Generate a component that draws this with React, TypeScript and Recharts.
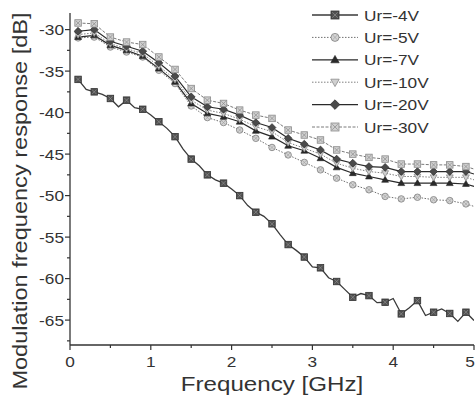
import { LineChart, Line, XAxis, YAxis, Legend } from 'recharts';

// frequency grid (GHz)
const FREQ_FINE = [
  0.1, 0.2, 0.3, 0.4, 0.5, 0.6, 0.7, 0.8, 0.9, 1.0,
  1.1, 1.2, 1.3, 1.4, 1.5, 1.6, 1.7, 1.8, 1.9, 2.0,
  2.1, 2.2, 2.3, 2.4, 2.5, 2.6, 2.7, 2.8, 2.9, 3.0,
  3.1, 3.2, 3.3, 3.4, 3.5, 3.6, 3.7, 3.8, 3.9, 4.0,
  4.1, 4.2, 4.3, 4.4, 4.5, 4.6, 4.7, 4.8, 4.9, 5.0,
];
const FREQ_MARK = [
  0.1, 0.3, 0.5, 0.7, 0.9, 1.1, 1.3, 1.5, 1.7, 1.9, 2.1, 2.3, 2.5,
  2.7, 2.9, 3.1, 3.3, 3.5, 3.7, 3.9, 4.1, 4.3, 4.5, 4.7, 4.9, 5.0,
];

// response in dB
const UR4 = [
  -36.0, -37.2, -37.5, -37.8, -38.3, -39.3, -38.5, -39.4, -39.6, -40.3,
  -41.1, -41.9, -42.9, -44.4, -45.6, -46.4, -47.5, -48.1, -48.5, -49.2,
  -50.0, -51.2, -52.0, -52.5, -53.4, -54.7, -55.9, -56.6, -57.4, -58.6,
  -58.7, -59.9, -60.35, -61.3, -62.25, -61.8, -62.05, -62.9, -62.85, -62.4,
  -64.25, -63.5, -62.65, -64.45, -64.05, -63.65, -64.2, -65.15, -64.05, -65.05,
];
const UR5 = [
  -31.0, -30.9, -32.1, -32.7, -33.3, -34.9, -36.5, -39.2, -40.6, -41.2, -42.1, -43.1, -44.2,
  -45.1, -46.0, -46.9, -47.9, -48.7, -49.3, -50.1, -50.4, -50.2, -50.5, -50.6, -51.0, -51.3,
];
const UR7 = [
  -30.9, -30.7, -31.9, -32.5, -33.2, -34.7, -36.3, -38.9, -40.1, -40.5, -41.1, -42.2, -42.9,
  -44.0, -44.6, -45.5, -46.6, -47.3, -47.7, -48.1, -48.5, -48.5, -48.5, -48.5, -48.6, -48.9,
];
const UR10 = [
  -30.6, -30.4, -31.7, -32.3, -32.9, -34.4, -36.0, -38.5, -39.7, -40.1, -40.8, -41.7, -42.3,
  -43.6, -44.3, -45.0, -46.1, -46.7, -47.1, -47.3, -47.7, -47.7, -47.8, -47.8, -47.8, -48.1,
];
const UR20 = [
  -30.2, -30.0, -31.4, -32.0, -32.6, -34.0, -35.6, -38.1, -39.3, -39.6, -40.3, -41.2, -41.8,
  -43.1, -43.8, -44.5, -45.6, -46.1, -46.5, -46.6, -47.1, -47.1, -47.1, -47.1, -47.1, -47.4,
];
const UR30 = [
  -29.2, -29.3, -30.9, -31.5, -31.8, -33.3, -34.8, -37.1, -38.5, -38.9, -39.7, -40.3, -40.7,
  -42.1, -42.7, -43.3, -44.5, -45.0, -45.4, -45.6, -46.2, -46.2, -46.3, -46.3, -46.5, -46.8,
];

const X_TICKS = [0, 0.5, 1, 1.5, 2, 2.5, 3, 3.5, 4, 4.5, 5];
const Y_TICKS = [-67.5, -65, -62.5, -60, -57.5, -55, -52.5, -50, -47.5, -45, -42.5, -40, -37.5, -35, -32.5, -30];

type Kind = 'square' | 'circle' | 'triangle' | 'triangleDown' | 'diamond' | 'squareX';

interface SeriesDef {
  name: string;
  freq: number[];
  values: number[];
  kind: Kind;
  stroke: string;
  width: number;
  dash?: string;
}

const SERIES: SeriesDef[] = [
  { name: 'Ur=-4V', freq: FREQ_FINE, values: UR4, kind: 'square', stroke: '#3a3a3a', width: 1.3 },
  { name: 'Ur=-5V', freq: FREQ_MARK, values: UR5, kind: 'circle', stroke: '#707070', width: 1, dash: '1.5 1.5' },
  { name: 'Ur=-7V', freq: FREQ_MARK, values: UR7, kind: 'triangle', stroke: '#2a2a2a', width: 1.2 },
  { name: 'Ur=-10V', freq: FREQ_MARK, values: UR10, kind: 'triangleDown', stroke: '#808080', width: 1, dash: '1.5 1.5' },
  { name: 'Ur=-20V', freq: FREQ_MARK, values: UR20, kind: 'diamond', stroke: '#2a2a2a', width: 1.2 },
  { name: 'Ur=-30V', freq: FREQ_MARK, values: UR30, kind: 'squareX', stroke: '#7a7a7a', width: 1, dash: '3 1.5' },
];

const FONT = "'Liberation Sans', Arial, sans-serif";
const INK = '#333';
const STRETCH = 1.15; // the original face is wider than Arial
const CHART_W = 476;

function Marker({ kind, cx, cy, s }: { kind: Kind; cx: number; cy: number; s: number }) {
  const h = s / 2;
  const xPath = `M${cx - h * 0.7},${cy - h * 0.7}L${cx + h * 0.7},${cy + h * 0.7}M${cx + h * 0.7},${cy - h * 0.7}L${cx - h * 0.7},${cy + h * 0.7}`;
  switch (kind) {
    case 'square':
      return (
        <g>
          <rect x={cx - h} y={cy - h} width={s} height={s} fill="#505050" stroke="#333" strokeWidth={0.8} />
          <path d={xPath} stroke="#999" strokeWidth={0.6} />
        </g>
      );
    case 'circle':
      return (
        <g>
          <circle cx={cx} cy={cy} r={h} fill="#d4d4d4" stroke="#8a8a8a" strokeWidth={0.9} />
          <path d={xPath} stroke="#9a9a9a" strokeWidth={0.6} />
        </g>
      );
    case 'triangle':
      return (
        <polygon
          points={`${cx},${cy - h * 1.1} ${cx + h * 1.05},${cy + h * 0.75} ${cx - h * 1.05},${cy + h * 0.75}`}
          fill="#2a2a2a"
          stroke="#222"
          strokeWidth={0.6}
        />
      );
    case 'triangleDown':
      return (
        <polygon
          points={`${cx},${cy + h * 1.1} ${cx + h * 1.05},${cy - h * 0.75} ${cx - h * 1.05},${cy - h * 0.75}`}
          fill="#d0d0d0"
          stroke="#8a8a8a"
          strokeWidth={0.8}
        />
      );
    case 'diamond':
      return (
        <polygon
          points={`${cx},${cy - h * 1.2} ${cx + h * 1.2},${cy} ${cx},${cy + h * 1.2} ${cx - h * 1.2},${cy}`}
          fill="#4a4a4a"
          stroke="#2a2a2a"
          strokeWidth={0.7}
        />
      );
    default:
      return (
        <g>
          <rect x={cx - h} y={cy - h} width={s} height={s} fill="#d0d0d0" stroke="#8a8a8a" strokeWidth={0.8} />
          <path d={xPath} stroke="#8a8a8a" strokeWidth={0.7} />
        </g>
      );
  }
}

// symbols on every other sample (0.1, 0.3, ... 4.9)
const isMarked = (f: number) => Math.round(f * 10) % 2 === 1;

const makeDot = (kind: Kind) => (p: any) => {
  const key = `dot-${p.index}`;
  if (!isMarked(p.payload?.f) || p.cx == null || p.cy == null) return <g key={key} />;
  return (
    <g key={key}>
      <Marker kind={kind} cx={p.cx} cy={p.cy} s={6.5} />
    </g>
  );
};

function XTick(props: any) {
  const { x, y, payload } = props;
  const v = payload.value as number;
  const major = Math.abs(v - Math.round(v)) < 1e-6;
  // keep the last label inside the picture
  const tx = Math.min(x, CHART_W - 6);
  return (
    <g>
      <line x1={x} y1={y} x2={x} y2={y + (major ? 5 : 3)} stroke={INK} strokeWidth={1.2} />
      {major && (
        <text
          transform={`translate(${tx},${y + 22}) scale(${STRETCH},1)`}
          textAnchor="middle"
          fontSize={15}
          fontFamily={FONT}
          fill={INK}
        >
          {v}
        </text>
      )}
    </g>
  );
}

function YTick(props: any) {
  const { x, y, payload } = props;
  const v = payload.value as number;
  const major = Math.abs(v - Math.round(v)) < 1e-6;
  return (
    <g>
      <line x1={x} y1={y} x2={x - (major ? 5 : 3)} y2={y} stroke={INK} strokeWidth={1.2} />
      {major && (
        <text
          transform={`translate(${x - 6},${y + 5.5}) scale(${STRETCH},1)`}
          textAnchor="end"
          fontSize={15}
          fontFamily={FONT}
          fill={INK}
        >
          {v}
        </text>
      )}
    </g>
  );
}

function XTitle(props: any) {
  const { viewBox } = props;
  const cx = viewBox.x + viewBox.width / 2;
  return (
    <text
      transform={`translate(${cx},${viewBox.y + 46}) scale(${STRETCH},1)`}
      textAnchor="middle"
      fontSize={21}
      fontFamily={FONT}
      fill={INK}
    >
      Frequency [GHz]
    </text>
  );
}

function YTitle(props: any) {
  const { viewBox } = props;
  const cy = viewBox.y + viewBox.height / 2 + 22;
  return (
    <text
      transform={`translate(27,${cy}) rotate(-90) scale(${STRETCH},1)`}
      textAnchor="middle"
      fontSize={20.5}
      fontFamily={FONT}
      fill={INK}
    >
      Modulation frequency response [dB]
    </text>
  );
}

function LegendBox() {
  return (
    <svg width={CHART_W} height={140} style={{ display: 'block' }}>
      {SERIES.map((s, i) => {
        const y = 15 + i * 22.4;
        return (
          <g key={s.name}>
            <line x1={312} x2={358} y1={y} y2={y} stroke={s.stroke} strokeWidth={s.width} strokeDasharray={s.dash} />
            <Marker kind={s.kind} cx={335} cy={y} s={8} />
            <text
              transform={`translate(364,${y + 5.5}) scale(${STRETCH},1)`}
              fontSize={15}
              fontFamily={FONT}
              fill={INK}
            >
              {s.name}
            </text>
          </g>
        );
      })}
    </svg>
  );
}

export default function App() {
  return (
    <div style={{ position: 'absolute', left: 0, top: 0, width: CHART_W, height: 398, background: '#fff' }}>
      <LineChart width={CHART_W} height={398} margin={{ top: 13, right: 2, bottom: 0, left: 0 }}>
        <XAxis
          dataKey="f"
          type="number"
          domain={[0, 5]}
          ticks={X_TICKS}
          interval={0}
          allowDataOverflow
          height={53}
          tickSize={0}
          tickMargin={0}
          tickLine={false}
          tick={<XTick />}
          axisLine={{ stroke: INK, strokeWidth: 1.3 }}
          label={XTitle}
        />
        <YAxis
          type="number"
          domain={[-68, -28]}
          ticks={Y_TICKS}
          interval={0}
          allowDataOverflow
          width={70}
          tickSize={0}
          tickMargin={0}
          tickLine={false}
          tick={<YTick />}
          axisLine={{ stroke: INK, strokeWidth: 1.3 }}
          label={YTitle}
        />
        <Legend
          layout="horizontal"
          verticalAlign="middle"
          align="center"
          wrapperStyle={{ left: 0, top: 0, width: CHART_W, height: 140 }}
          content={() => <LegendBox />}
        />
        {SERIES.map((s) => (
          <Line
            key={s.name}
            name={s.name}
            data={s.freq.map((f, i) => ({ f, v: s.values[i] }))}
            dataKey="v"
            type="linear"
            stroke={s.stroke}
            strokeWidth={s.width}
            strokeDasharray={s.dash}
            dot={makeDot(s.kind)}
            activeDot={false}
            isAnimationActive={false}
          />
        ))}
      </LineChart>
    </div>
  );
}
